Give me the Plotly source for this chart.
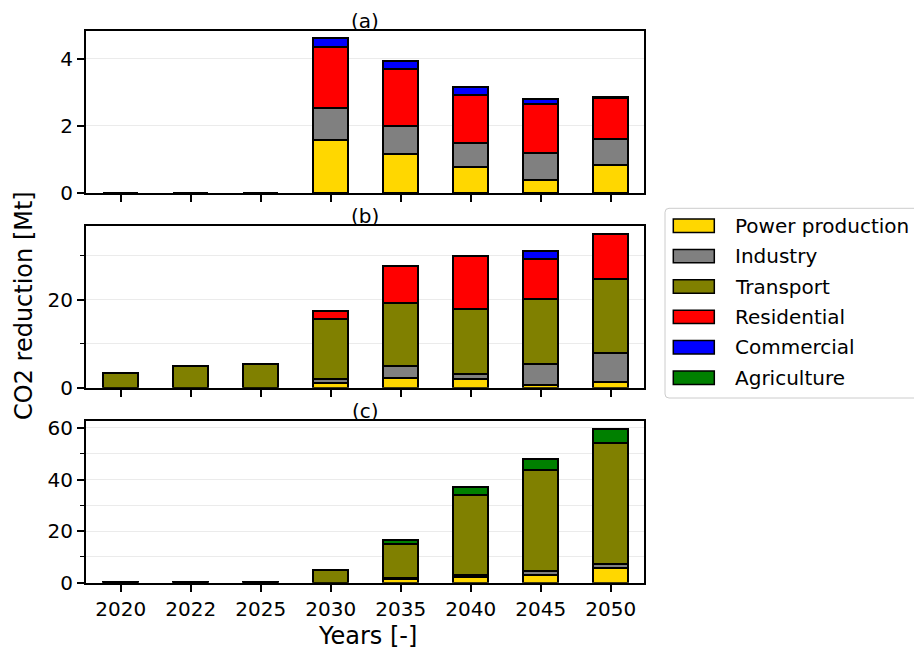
import plotly.graph_objects as go

# ---- data (Mt CO2 reduction per sector) ----
years = ["2020", "2022", "2025", "2030", "2035", "2040", "2045", "2050"]
sectors = ["Power production", "Industry", "Transport", "Residential", "Commercial", "Agriculture"]
colors = ["#FFD700", "#808080", "#808000", "#FF0000", "#0000FF", "#008000"]
panel_titles = ["(a)", "(b)", "(c)"]

power_a = [0, 0, 0, 1.58, 1.18, 0.79, 0.39, 0.84]
industry_a = [0, 0, 0, 0.95, 0.83, 0.70, 0.82, 0.79]
transport_a = [0, 0, 0, 0, 0, 0, 0, 0]
residential_a = [0, 0, 0, 1.83, 1.71, 1.44, 1.44, 1.22]
commercial_a = [0, 0, 0, 0.26, 0.24, 0.23, 0.16, 0.02]
agriculture_a = [0, 0, 0, 0, 0, 0, 0, 0]

power_b = [0, 0, 0, 1.14, 2.2, 2.05, 0.7, 1.36]
industry_b = [0, 0, 0, 0.84, 2.7, 1.05, 4.85, 6.7]
transport_b = [3.34, 5.0, 5.54, 13.62, 14.4, 14.85, 14.6, 16.85]
residential_b = [0, 0, 0, 1.83, 8.35, 12.15, 9.15, 10.2]
commercial_b = [0, 0, 0, 0, 0, 0, 1.9, 0]
agriculture_b = [0, 0, 0, 0, 0, 0, 0, 0]

power_c = [0, 0, 0, 0, 1.6, 2.5, 3.1, 5.7]
industry_c = [0, 0, 0, 0, 0.2, 0.74, 1.55, 1.54]
transport_c = [0.3, 0.3, 0.3, 4.9, 13.3, 30.71, 39.35, 47.11]
residential_c = [0, 0, 0, 0, 0, 0, 0, 0]
commercial_c = [0, 0, 0, 0, 0, 0, 0, 0]
agriculture_c = [0, 0, 0, 0, 1.7, 3.1, 4.2, 5.45]

panels = [
    [power_a, industry_a, transport_a, residential_a, commercial_a, agriculture_a],
    [power_b, industry_b, transport_b, residential_b, commercial_b, agriculture_b],
    [power_c, industry_c, transport_c, residential_c, commercial_c, agriculture_c],
]

# ---- layout geometry (pixels in a 914x650 canvas) ----
W, H = 914, 650
FONT = "DejaVu Sans"


def fx(px):
    return px / W


def fy(py):
    return 1 - py / H


x_left, x_right = 86, 644
panel_px = [(30.7, 193.0), (225.7, 387.7), (420.7, 582.7)]
y_ranges = [[0, 4.84], [0, 36.86], [0, 62.8]]
y_dticks = [2, 20, 20]
minor_dticks = [None, 10, 10]

fig = go.Figure()

for p, series in enumerate(panels):
    ax = "" if p == 0 else str(p + 1)
    for name, col, vals in zip(sectors, colors, series):
        fig.add_trace(go.Bar(
            x=years, y=vals, name=name, width=0.5,
            marker=dict(color=col, line=dict(color="black", width=2)),
            xaxis="x" + ax, yaxis="y" + ax, showlegend=False,
        ))

    top, bottom = panel_px[p]
    xa = dict(
        domain=[fx(x_left), fx(x_right)], anchor="y" + ax, type="category",
        range=[-0.496, 7.476], showline=True, mirror=True, linecolor="black",
        linewidth=2, ticks="outside", ticklen=7, tickwidth=1.6, tickcolor="black",
        showgrid=False, showticklabels=(p == 2), automargin=False,
        tickfont=dict(family=FONT, size=20, color="black"),
    )
    if p > 0:
        xa["matches"] = "x"
    ya = dict(
        domain=[fy(bottom), fy(top)], anchor="x" + ax, range=y_ranges[p],
        dtick=y_dticks[p], tick0=0, showline=True, mirror=True, linecolor="black",
        linewidth=2, ticks="outside", ticklen=7, tickwidth=1.6, tickcolor="black",
        showgrid=True, gridcolor="#ebebeb", gridwidth=1, zeroline=False,
        automargin=False, tickfont=dict(family=FONT, size=20, color="black"),
    )
    if minor_dticks[p]:
        ya["minor"] = dict(dtick=minor_dticks[p], tick0=0, ticks="outside", ticklen=4,
                           tickwidth=1.2, tickcolor="black", showgrid=True,
                           gridcolor="#ebebeb", gridwidth=1)
    fig.layout["xaxis" + ax] = xa
    fig.layout["yaxis" + ax] = ya

    fig.add_annotation(
        text=panel_titles[p], xref="paper", yref="paper",
        x=fx((x_left + x_right) / 2), y=fy(top - 10), xanchor="center", yanchor="middle",
        showarrow=False, font=dict(family=FONT, size=20, color="black"),
    )

# axis titles
fig.add_annotation(
    text="Years [-]", xref="paper", yref="paper", x=fx(367), y=fy(636),
    xanchor="center", yanchor="middle", showarrow=False,
    font=dict(family=FONT, size=24, color="black"),
)
fig.add_annotation(
    text="CO2 reduction [Mt]", xref="paper", yref="paper", x=fx(24), y=fy(306),
    xanchor="center", yanchor="middle", textangle=-90, showarrow=False,
    font=dict(family=FONT, size=24, color="black"),
)

# legend drawn as frame + swatches + labels
lg_left, lg_top, lg_bottom, r = 665, 208.3, 398.0, 4
shapes = [dict(
    type="path", xref="paper", yref="paper",
    path=(f"M {fx(lg_left + r)},{fy(lg_top)} L {fx(W + 10)},{fy(lg_top)} "
          f"L {fx(W + 10)},{fy(lg_bottom)} L {fx(lg_left + r)},{fy(lg_bottom)} "
          f"Q {fx(lg_left)},{fy(lg_bottom)} {fx(lg_left)},{fy(lg_bottom - r)} "
          f"L {fx(lg_left)},{fy(lg_top + r)} Q {fx(lg_left)},{fy(lg_top)} {fx(lg_left + r)},{fy(lg_top)} Z"),
    line=dict(color="#cccccc", width=1), fillcolor="white", layer="above",
)]
row0, row_step = 225.7, 30.4
for i, (name, col) in enumerate(zip(sectors, colors)):
    cy = row0 + i * row_step
    shapes.append(dict(
        type="rect", xref="paper", yref="paper",
        x0=fx(673.3), x1=fx(714.3), y0=fy(cy - 6.7), y1=fy(cy + 6.7),
        fillcolor=col, line=dict(color="black", width=1.5), layer="above",
    ))
    fig.add_annotation(
        text=name, xref="paper", yref="paper", x=fx(732.7), y=fy(cy),
        xanchor="left", yanchor="middle", showarrow=False,
        font=dict(family=FONT, size=20, color="black"),
    )

fig.update_layout(
    width=W, height=H, margin=dict(l=0, r=0, t=0, b=0),
    paper_bgcolor="white", plot_bgcolor="white",
    barmode="stack", bargap=0, shapes=shapes,
    font=dict(family=FONT, color="black"),
)

fig.write_html("out.html")
